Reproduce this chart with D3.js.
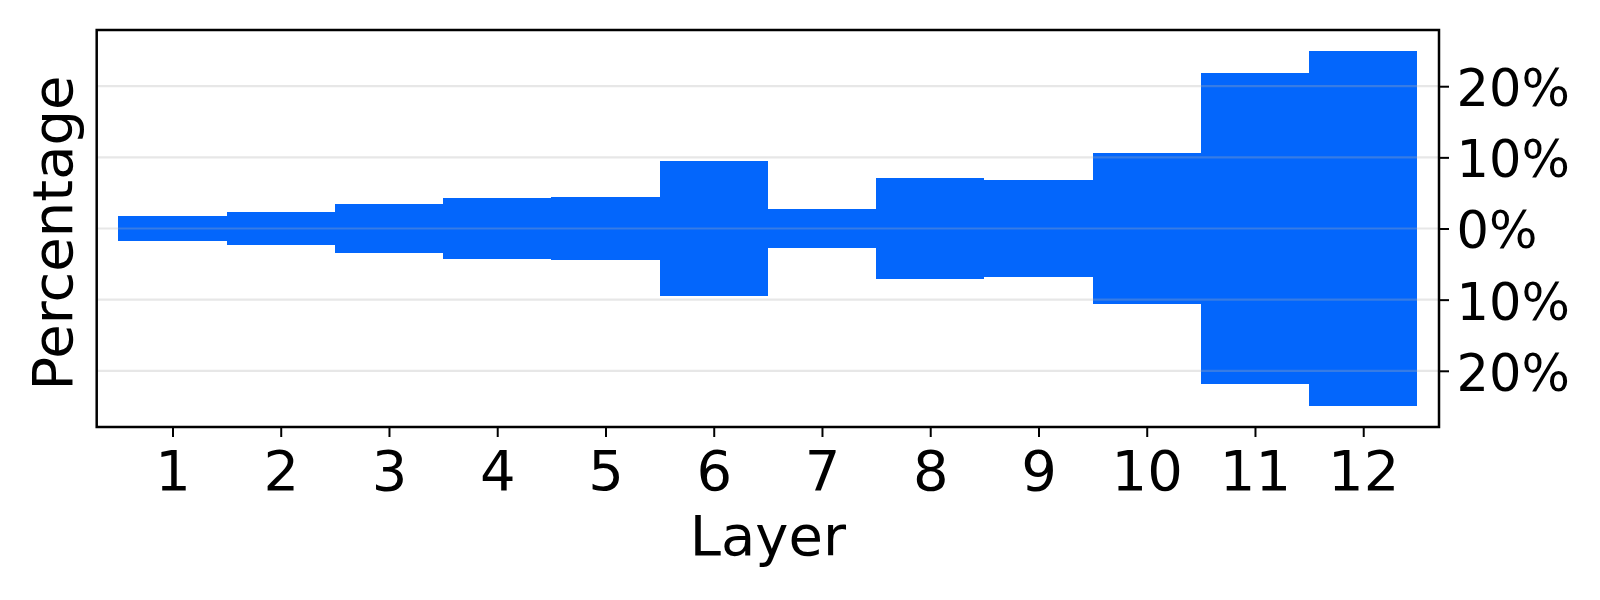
<!DOCTYPE html>
<html>
<head>
<meta charset="utf-8">
<script src="https://cdn.jsdelivr.net/npm/d3@7"></script>
<style>
  body { margin: 0; background: white; }
  svg { display: block; font-family: "DejaVu Sans", sans-serif; }
</style>
</head>
<body>
<svg width="1600" height="600"></svg>
<script>
  // Data: half-spread (in %) of each layer, drawn symmetric around 0
  const layers = [1, 2, 3, 4, 5, 6, 7, 8, 9, 10, 11, 12];
  const spread = [1.74, 2.37, 3.49, 4.34, 4.41, 9.5, 2.8, 7.1, 6.75, 10.6, 21.9, 24.95];
  const y_ticks = [-20, -10, 0, 10, 20];

  const
    LEFT = 96.7,
    RIGHT = 1439,
    TOP = 30,
    BOTTOM = 427,
    BAR_COLOR = "#0366fc"
  ;

  const svg = d3.select("svg");

  const x_scale = d3.scaleLinear().domain([0.3, 12.7]).range([LEFT, RIGHT]);
  const y_scale = d3.scaleLinear().domain([-27.9, 27.9]).range([BOTTOM, TOP]);

  // Bars (one per layer, from -v to +v, touching each other)
  svg.append("g")
    .selectAll("rect")
    .data(layers).enter()
    .append("rect")
      .attr("x", d => x_scale(d - 0.5))
      .attr("width", d => x_scale(d + 0.5) - x_scale(d - 0.5))
      .attr("y", (d, i) => y_scale(spread[i]))
      .attr("height", (d, i) => y_scale(-spread[i]) - y_scale(spread[i]))
      .attr("fill", BAR_COLOR)
      .attr("shape-rendering", "crispEdges")
  ;

  // Horizontal grid lines, drawn over the bars
  svg.append("g")
    .selectAll("line")
    .data(y_ticks).enter()
    .append("line")
      .attr("x1", LEFT)
      .attr("x2", RIGHT)
      .attr("y1", d => y_scale(d))
      .attr("y2", d => y_scale(d))
      .attr("stroke", "#b0b0b0")
      .attr("stroke-opacity", 0.3)
      .attr("stroke-width", 2.2)
  ;

  // Frame
  svg.append("rect")
    .attr("x", LEFT)
    .attr("y", TOP)
    .attr("width", RIGHT - LEFT)
    .attr("height", BOTTOM - TOP)
    .attr("fill", "none")
    .attr("stroke", "black")
    .attr("stroke-width", 2.5)
  ;

  // Bottom axis
  const x_axis = svg.append("g")
    .attr("transform", `translate(0,${BOTTOM})`)
    .call(d3.axisBottom(x_scale).tickValues(layers).tickFormat(d3.format("d")).tickSize(10).tickPadding(13));

  // Right axis, absolute percentages
  const y_axis = svg.append("g")
    .attr("transform", `translate(${RIGHT},0)`)
    .call(d3.axisRight(y_scale).tickValues(y_ticks).tickFormat(d => `${Math.abs(d)}%`).tickSize(10).tickPadding(7.5));

  [x_axis, y_axis].forEach(function(axis) {
    axis.select(".domain").remove();
    axis.selectAll(".tick line")
      .attr("stroke", "black")
      .attr("stroke-width", 2);
    axis.selectAll(".tick text")
      .attr("fill", "black")
      .style("font-family", "DejaVu Sans");
  });
  x_axis.selectAll(".tick text").style("font-size", "56px");
  y_axis.selectAll(".tick text").style("font-size", "51px").attr("dy", "0.38em");

  // Axis titles
  svg.append("text")
    .attr("x", (LEFT + RIGHT) / 2)
    .attr("y", 555)
    .attr("text-anchor", "middle")
    .style("font-size", "56px")
    .text("Layer")
  ;
  svg.append("text")
    .attr("transform", "translate(71.5,233) rotate(-90)")
    .attr("text-anchor", "middle")
    .style("font-size", "56px")
    .text("Percentage")
  ;
</script>
</body>
</html>
